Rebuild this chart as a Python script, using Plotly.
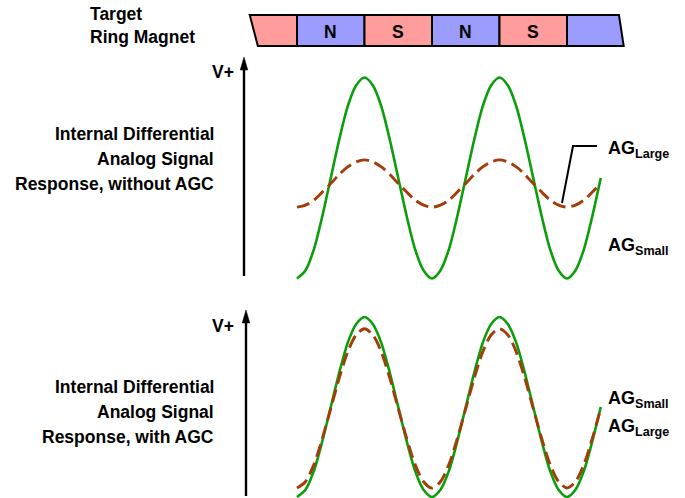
import plotly.graph_objects as go

# ---------------- data ----------------
# position along the target, in pole pitches (0 = left edge of first N pole)
position = [0, 0.125, 0.25, 0.375, 0.5, 0.625, 0.75, 0.875,
            1, 1.125, 1.25, 1.375, 1.5, 1.625, 1.75, 1.875,
            2, 2.125, 2.25, 2.375, 2.5, 2.625, 2.75, 2.875,
            3, 3.125, 3.25, 3.375, 3.5, 3.625, 3.75, 3.875,
            4, 4.125, 4.25, 4.375, 4.5]

# without AGC (normalised signal) - AG_Small (solid) and AG_Large (dashed)
no_agc_small = [-1.0, -0.92, -0.71, -0.38, 0.0, 0.38, 0.71, 0.92,
                1.0, 0.92, 0.71, 0.38, 0.0, -0.38, -0.71, -0.92,
                -1.0, -0.92, -0.71, -0.38, 0.0, 0.38, 0.71, 0.92,
                1.0, 0.92, 0.71, 0.38, 0.0, -0.38, -0.71, -0.92,
                -1.0, -0.92, -0.71, -0.38, 0.0]
no_agc_large = [-0.29, -0.27, -0.22, -0.14, -0.055, 0.035, 0.11, 0.16,
                0.18, 0.16, 0.11, 0.035, -0.055, -0.14, -0.22, -0.27,
                -0.29, -0.27, -0.22, -0.14, -0.055, 0.035, 0.11, 0.16,
                0.18, 0.16, 0.11, 0.035, -0.055, -0.14, -0.22, -0.27,
                -0.29, -0.27, -0.22, -0.14, -0.055]

# with AGC (normalised signal)
agc_small = [-1.0, -0.92, -0.71, -0.38, 0.0, 0.38, 0.71, 0.92,
             1.0, 0.92, 0.71, 0.38, 0.0, -0.38, -0.71, -0.92,
             -1.0, -0.92, -0.71, -0.38, 0.0, 0.38, 0.71, 0.92,
             1.0, 0.92, 0.71, 0.38, 0.0, -0.38, -0.71, -0.92,
             -1.0, -0.92, -0.71, -0.38, 0.0]
agc_large = [-0.9, -0.83, -0.64, -0.35, -0.017, 0.32, 0.61, 0.80,
             0.87, 0.80, 0.61, 0.32, -0.017, -0.35, -0.64, -0.83,
             -0.9, -0.83, -0.64, -0.35, -0.017, 0.32, 0.61, 0.80,
             0.87, 0.80, 0.61, 0.32, -0.017, -0.35, -0.64, -0.83,
             -0.9, -0.83, -0.64, -0.35, -0.017]

pole_labels = ["", "N", "S", "N", "S", ""]
pole_colors = ["#FF9C9C", "#9C9CFF", "#FF9C9C", "#9C9CFF", "#FF9C9C", "#9C9CFF"]

# ---------------- figure ----------------
W, H = 685, 498
GREEN = "#0A9E0A"
BROWN = "#A33C08"
FONT = "Liberation Sans, Arial, sans-serif"


def px(x):
    return x / W


def py(y):
    return 1 - y / H


fig = go.Figure()
for ys, yax, col, dash, lw in [(no_agc_small, "y", GREEN, "solid", 2.6),
                               (no_agc_large, "y", BROWN, "13px,6px", 2.9),
                               (agc_small, "y2", GREEN, "solid", 2.6),
                               (agc_large, "y2", BROWN, "13px,6px", 2.9)]:
    fig.add_trace(go.Scatter(x=position, y=ys, mode="lines", yaxis=yax,
                             line=dict(color=col, width=lw, shape="spline",
                                       smoothing=0.8, dash=dash),
                             hoverinfo="skip"))

# pixel-calibrated axes: 67.5 px per pole, origin at x=297 px
x0px, pole_px = 297, 67.5
top_c, top_a = 178, 100.5
bot_c, bot_a = 407, 90


def xpix(v):
    return x0px + v * pole_px


fig.update_layout(
    width=W, height=H, margin=dict(l=0, r=0, t=0, b=0),
    paper_bgcolor="white", plot_bgcolor="white", showlegend=False,
    xaxis=dict(range=[-x0px / pole_px, (W - x0px) / pole_px], visible=False,
               fixedrange=True),
    yaxis=dict(range=[(top_c - H) / top_a, top_c / top_a], visible=False,
               fixedrange=True),
    yaxis2=dict(range=[(bot_c - H) / bot_a, bot_c / bot_a], visible=False,
                overlaying="y", fixedrange=True),
)

# ---------------- ring magnet strip ----------------
mag_top, mag_bot = py(15), py(46)
shapes = []
n = len(pole_labels)
for i, col in enumerate(pole_colors):
    left, right = i - 1, i
    if i == 0:
        tl, bl, tr, br = -0.70, -0.58, right, right
    elif i == n - 1:
        tl, bl, tr, br = left, left, 4.77, 4.84
    else:
        tl, bl, tr, br = left, left, right, right
    path = (f"M {tl} {mag_top} L {tr} {mag_top} L {br} {mag_bot} "
            f"L {bl} {mag_bot} Z")
    shapes.append(dict(type="path", path=path, xref="x", yref="paper",
                       fillcolor=col, line=dict(color="black", width=2),
                       layer="below"))

# AG_Large leader line
shapes.append(dict(type="path", xref="paper", yref="paper",
                   path=f"M {px(562)} {py(203)} L {px(573)} {py(146)} L {px(597)} {py(146)}",
                   line=dict(color="black", width=2)))

# vertical axis arrows (shaft + slim head)
for xa, ytip, ytail in [(244, 57, 276), (246, 310, 496)]:
    shapes.append(dict(type="line", xref="paper", yref="paper",
                       x0=px(xa), x1=px(xa), y0=py(ytail), y1=py(ytip + 8),
                       line=dict(color="black", width=2.4)))
    shapes.append(dict(type="path", xref="paper", yref="paper",
                       path=(f"M {px(xa)} {py(ytip)} L {px(xa + 3.8)} {py(ytip + 13)} "
                             f"L {px(xa - 3.8)} {py(ytip + 13)} Z"),
                       fillcolor="black", line=dict(color="black", width=0.5)))
fig.update_layout(shapes=shapes)

ann = []


def txt(x, y, text, xanchor="left", size=17.5):
    ann.append(dict(x=px(x), y=py(y), xref="paper", yref="paper", text=text,
                    showarrow=False, xanchor=xanchor, yanchor="middle",
                    font=dict(family=FONT, size=size, color="black",
                              weight="bold")))


for i, lab in enumerate(pole_labels):
    if lab:
        txt(xpix(i - 0.5), 32, lab, "center", 17.5)

txt(88, 14, "Target")
txt(88, 37, "Ring Magnet")

txt(216, 134, "Internal Differential", "right")
txt(216, 159, "Analog Signal", "right")
txt(216, 184, "Response, without AGC", "right")

txt(216, 387, "Internal Differential", "right")
txt(216, 412, "Analog Signal", "right")
txt(216, 437, "Response, with AGC", "right")

txt(236, 72, "V+", "right")
txt(236, 326, "V+", "right")

txt(606, 150, "AG<sub>Large</sub>", size=18)
txt(606, 247, "AG<sub>Small</sub>", size=18)
txt(606, 399, "AG<sub>Small</sub>", size=18)
txt(606, 427, "AG<sub>Large</sub>", size=18)

fig.update_layout(annotations=ann)
fig.write_html("out.html",
               config={"displayModeBar": False},
               post_script="document.body.style.margin='0px';"
                           "document.body.style.padding='0px';")
